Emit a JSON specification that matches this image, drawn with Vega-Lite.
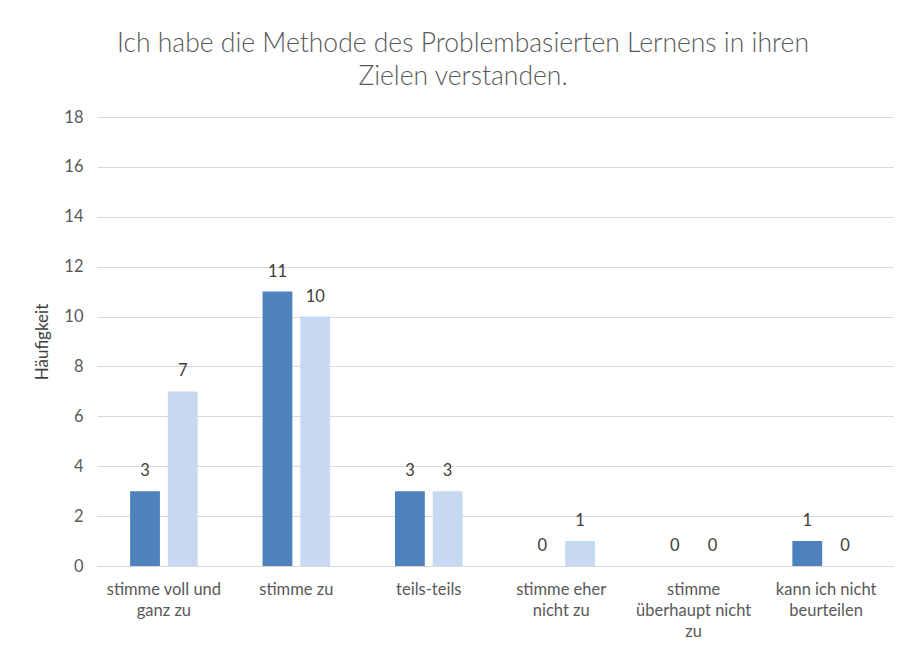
{
  "$schema": "https://vega.github.io/schema/vega-lite/v6.json",
  "autosize": "none",
  "width": 796,
  "height": 449,
  "padding": {"left": 97, "top": 117, "right": 10, "bottom": 81},
  "background": "white",
  "title": {
    "text": ["Ich habe die Methode des Problembasierten Lernens in ihren", "Zielen verstanden."],
    "font": "Lato",
    "fontSize": 26.5,
    "fontWeight": 300,
    "color": "#595959",
    "lineHeight": 33,
    "anchor": "middle",
    "dx": -32,
    "offset": 19
  },
  "data": {
    "values": [
      {"kategorie": "stimme voll und ganz zu", "gruppe": "A", "anzahl": 3},
      {"kategorie": "stimme voll und ganz zu", "gruppe": "B", "anzahl": 7},
      {"kategorie": "stimme zu", "gruppe": "A", "anzahl": 11},
      {"kategorie": "stimme zu", "gruppe": "B", "anzahl": 10},
      {"kategorie": "teils-teils", "gruppe": "A", "anzahl": 3},
      {"kategorie": "teils-teils", "gruppe": "B", "anzahl": 3},
      {"kategorie": "stimme eher nicht zu", "gruppe": "A", "anzahl": 0},
      {"kategorie": "stimme eher nicht zu", "gruppe": "B", "anzahl": 1},
      {"kategorie": "stimme überhaupt nicht zu", "gruppe": "A", "anzahl": 0},
      {"kategorie": "stimme überhaupt nicht zu", "gruppe": "B", "anzahl": 0},
      {"kategorie": "kann ich nicht beurteilen", "gruppe": "A", "anzahl": 1},
      {"kategorie": "kann ich nicht beurteilen", "gruppe": "B", "anzahl": 0}
    ]
  },
  "encoding": {
    "x": {
      "field": "kategorie",
      "type": "nominal",
      "sort": null,
      "scale": {"paddingInner": 0.49, "paddingOuter": 0.25},
      "axis": {
        "title": null,
        "labelAngle": 0,
        "ticks": false,
        "domainColor": "#d9d9d9",
        "labelFont": "Lato",
        "labelFontSize": 16.5,
        "labelColor": "#595959",
        "labelPadding": 15,
        "labelLineHeight": 21,
        "labelBaseline": "top",
        "labelExpr": "datum.label == 'stimme voll und ganz zu' ? ['stimme voll und', 'ganz zu'] : datum.label == 'stimme eher nicht zu' ? ['stimme eher', 'nicht zu'] : datum.label == 'stimme überhaupt nicht zu' ? ['stimme', 'überhaupt nicht', 'zu'] : datum.label == 'kann ich nicht beurteilen' ? ['kann ich nicht', 'beurteilen'] : datum.label"
      }
    },
    "xOffset": {
      "field": "gruppe",
      "type": "nominal",
      "scale": {"paddingInner": 0.21, "paddingOuter": 0}
    },
    "y": {
      "field": "anzahl",
      "type": "quantitative",
      "scale": {"domain": [0, 18]},
      "axis": {
        "title": "Häufigkeit",
        "titleFont": "Lato",
        "titleFontSize": 17,
        "titleFontWeight": "normal",
        "titleColor": "#404040",
        "titlePadding": 12,
        "values": [0, 2, 4, 6, 8, 10, 12, 14, 16, 18],
        "domain": false,
        "ticks": false,
        "gridColor": "#d9d9d9",
        "labelFont": "Lato",
        "labelFontSize": 16.5,
        "labelColor": "#595959",
        "labelPadding": 14
      }
    }
  },
  "layer": [
    {
      "mark": {"type": "bar"},
      "encoding": {
        "color": {
          "field": "gruppe",
          "type": "nominal",
          "scale": {"domain": ["A", "B"], "range": ["#4f81bd", "#c6d9f1"]},
          "legend": null
        }
      }
    },
    {
      "mark": {
        "type": "text",
        "baseline": "middle",
        "dy": -20,
        "font": "Lato",
        "fontSize": 16.5,
        "color": "#404040"
      },
      "encoding": {"text": {"field": "anzahl", "type": "quantitative"}}
    }
  ],
  "config": {"view": {"stroke": null}}
}
